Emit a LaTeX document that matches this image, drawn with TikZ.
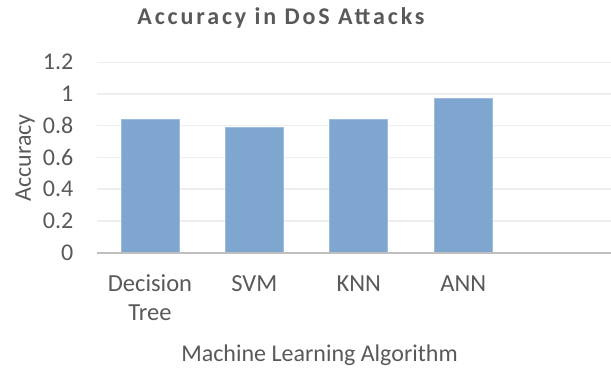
\documentclass[tikz,border=0pt]{standalone}
\usepackage{fontspec}
\setmainfont{Carlito}
\definecolor{txt}{HTML}{595959}
\definecolor{barfill}{HTML}{7FA6CF}
\definecolor{baredge}{HTML}{9DBBDC}
\definecolor{gridc}{HTML}{EEEEEE}
\definecolor{axisc}{HTML}{BFBFBF}
\begin{document}
\begin{tikzpicture}[x=1pt,y=-1pt,
  ticklab/.style={anchor=east,inner sep=0pt,text=txt,font=\fontsize{24}{28}\selectfont},
  catlab/.style={anchor=base,inner sep=0pt,text=txt,align=center,font=\fontsize{24.5}{28.5}\selectfont},
  axtitle/.style={inner sep=0pt,text=txt,font=\fontsize{24}{28}\selectfont},
  bar/.style={fill=barfill,draw=baredge,line width=0.8pt},
  gridline/.style={draw=gridc,line width=1.5pt}]
\useasboundingbox (0,0) rectangle (611,370);
% gridlines
\foreach \v in {0.2,0.4,0.6,0.8,1.0,1.2}{
  \draw[gridline] (97.3,{252.5-\v*158.5}) -- (611,{252.5-\v*158.5});
}
% bars
\foreach \c/\v in {150/0.84,254.3/0.79,358.8/0.84,463.3/0.97}{
  \draw[bar] ({\c-29},252.5) rectangle ({\c+29},{252.5-\v*158.5});
}
% axis
\coordinate (axl) at (97.3,252.5);
\coordinate (axr) at (611,252.5);
\draw[draw=axisc,line width=2pt] (axl) -- (axr);
% tick labels
\node[ticklab] (t0) at (73.5,252.5) {0};
\node[ticklab] (t1) at (73.5,{252.5-0.2*158.5}) {0.2};
\node[ticklab] (t2) at (73.5,{252.5-0.4*158.5}) {0.4};
\node[ticklab] (t3) at (73.5,{252.5-0.6*158.5}) {0.6};
\node[ticklab] (t4) at (73.5,{252.5-0.8*158.5}) {0.8};
\node[ticklab] (t5) at (73.5,{252.5-1.0*158.5}) {1};
\node[ticklab] (t6) at (73.5,{252.5-1.2*158.5}) {1.2};
% category labels
\node[catlab] (c1) at (150,320.2) {Decision\\Tree};
\node[catlab] (c2) at (254.3,291.7) {SVM};
\node[catlab] (c3) at (358.8,291.7) {KNN};
\node[catlab] (c4) at (463.3,291.7) {ANN};
% axis titles
\node[axtitle,rotate=90] (ya) at (25,158) {Accuracy};
\node[axtitle,anchor=base] (xa) at (319.5,361.5) {Machine Learning Algorithm};
% title
\node[inner sep=0pt,text=txt,font=\fontsize{24}{28}\selectfont\bfseries\addfontfeature{LetterSpace=12}] (title) at (281,17.5) {Accuracy in DoS Attacks};
\end{tikzpicture}
\end{document}
